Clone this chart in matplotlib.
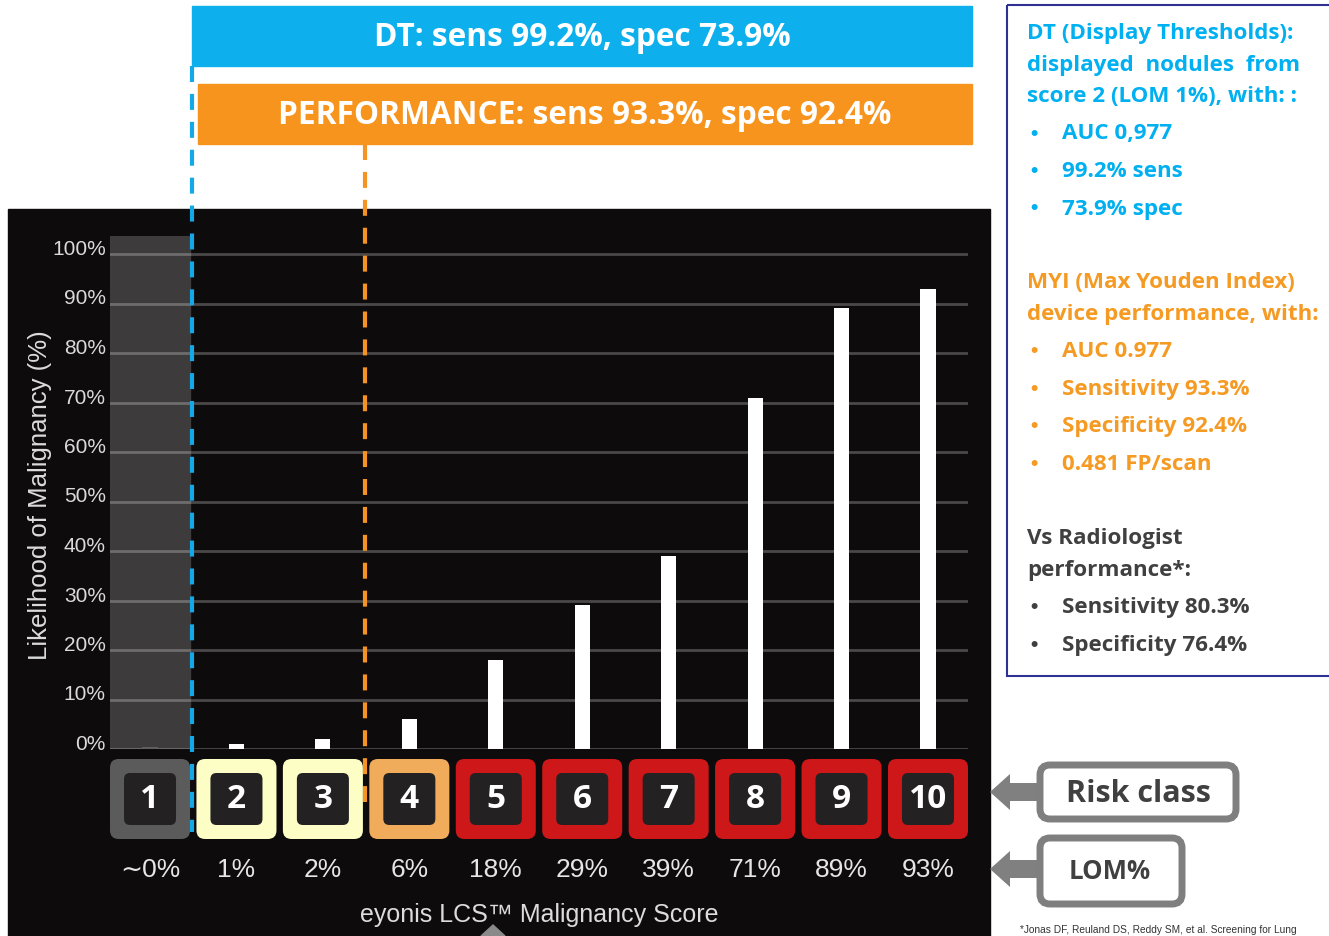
import matplotlib
matplotlib.use('Agg')
import matplotlib.pyplot as plt
from matplotlib.patches import FancyBboxPatch, Rectangle, Polygon, FancyArrow

plt.rcParams['font.family'] = ['Liberation Sans', 'DejaVu Sans']
plt.rcParams['lines.scale_dashes'] = False

W, H = 1329, 937

# chart data
scores = [1, 2, 3, 4, 5, 6, 7, 8, 9, 10]
likelihood = [0.4, 1, 2, 6, 18, 29, 39, 71, 89, 93]
lom_labels = ['∼0%', '1%', '2%', '6%', '18%', '29%', '39%', '71%', '89%', '93%']
risk_colors = ['#5b5b5b', '#fdfdc6', '#fdfdc6', '#f1ac5b',
               '#cd1719', '#cd1719', '#cd1719', '#cd1719', '#cd1719', '#cd1719']
bar_colors = ['#5e5e5e'] + ['white'] * 9
yticks = [0, 10, 20, 30, 40, 50, 60, 70, 80, 90, 100]
ytick_labels = ['0%', '10%', '20%', '30%', '40%', '50%', '60%', '70%', '80%', '90%', '100%']

# side panel texts
dt_head = ['DT (Display Thresholds):', 'displayed  nodules  from', 'score 2 (LOM 1%), with: :']
dt_items = ['AUC 0,977', '99.2% sens', '73.9% spec']
myi_head = ['MYI (Max Youden Index)', 'device performance, with:']
myi_items = ['AUC 0.977', 'Sensitivity 93.3%', 'Specificity 92.4%', '0.481 FP/scan']
rad_head = ['Vs Radiologist', 'performance*:']
rad_items = ['Sensitivity 80.3%', 'Specificity 76.4%']

BLUE = '#0db0ec'
ORANGE = '#f7941d'
BLUE_TXT = '#00b0f0'
ORANGE_TXT = '#f59a23'
GRAY_TXT = '#404040'
BOLD = 'Open Sans'

fig = plt.figure(figsize=(W / 100, H / 100), dpi=100)

# --- background layer, pixel coordinates
bg = fig.add_axes([0, 0, 1, 1], zorder=0)
bg.set_xlim(0, W)
bg.set_ylim(H, 0)
bg.axis('off')

bg.add_patch(Rectangle((8, 210), 982, 727, color='#0e0b0c'))

# banners
bg.add_patch(Rectangle((192, 7), 780, 60, color=BLUE))
bg.text(582, 38, 'DT: sens 99.2%, spec 73.9%', color='white', fontsize=22.8,
        fontweight='bold', family=BOLD, ha='center', va='center')
bg.add_patch(Rectangle((198, 85), 774, 60, color=ORANGE))
bg.text(585, 116, 'PERFORMANCE: sens 93.3%, spec 92.4%', color='white', fontsize=22.8,
        fontweight='bold', family=BOLD, ha='center', va='center')

# right info box
bg.add_patch(Rectangle((1007, 6), 400, 671, fill=False, edgecolor='#2e3192', lw=1.5))

def block(y, head, items, color):
    for t in head:
        bg.text(1027, y, t, color=color, fontsize=16.1, fontweight='bold',
                family=BOLD, va='center')
        y += 32
    y += 5
    for t in items:
        bg.text(1030, y, '•', color=color, fontsize=15, fontweight='bold', va='center')
        bg.text(1062, y, t, color=color, fontsize=16.1, fontweight='bold',
                family=BOLD, va='center')
        y += 37.5
    return y

block(33, dt_head, dt_items, BLUE_TXT)
block(283, myi_head, myi_items, ORANGE_TXT)
block(539, rad_head, rad_items, GRAY_TXT)

# legend boxes with arrows
bg.add_patch(FancyArrow(1042, 793, -32, 0, width=18, head_width=36, head_length=20,
                        length_includes_head=False, color='#808080', lw=0))
bg.add_patch(FancyBboxPatch((1040, 766), 196, 54, boxstyle='round,pad=0,rounding_size=10',
                            fc='white', ec='#7f7f7f', lw=5))
bg.text(1138, 794, 'Risk class', color=GRAY_TXT, fontsize=22, fontweight='bold',
        family=BOLD, ha='center', va='center')
bg.add_patch(FancyArrow(1042, 870, -32, 0, width=18, head_width=36, head_length=20,
                        length_includes_head=False, color='#808080', lw=0))
bg.add_patch(FancyBboxPatch((1040, 839), 142, 66, boxstyle='round,pad=0,rounding_size=10',
                            fc='white', ec='#7f7f7f', lw=5))
bg.text(1110, 872, 'LOM%', color=GRAY_TXT, fontsize=18.5, fontweight='bold',
        family=BOLD, ha='center', va='center')

bg.text(1020, 930, '*Jonas DF, Reuland DS, Reddy SM, et al. Screening for Lung',
        color='#333333', fontsize=7.3, va='center')

bg.add_patch(Polygon([(481, 937), (493, 926), (505, 937)], color='#8a8a8a'))

# --- bar chart
x0, x1 = 1 - 40 / 86.4, 10 + 40 / 86.4
ax = fig.add_axes([110 / W, (H - 750) / H, 858 / W, (750 - 237) / H], zorder=1)
ax.set_facecolor('none')
ax.set_xlim(x0, x1)
ax.set_ylim(0, (750 - 237) / 4.95)
ax.axvspan(x0, 1 + 40 / 86.4, color='#3d3b3c', zorder=0)
ax.bar(scores, likelihood, width=0.175, color=bar_colors, zorder=3)
ax.set_yticks(yticks)
ax.set_yticklabels(ytick_labels)
ax.set_xticks([])
ax.grid(axis='y', color='white', alpha=0.25, lw=2)
ax.tick_params(axis='y', length=0, pad=3, labelsize=15, labelcolor='#dadada')
for lab in ax.get_yticklabels():
    lab.set_va('baseline')
for sp in ax.spines.values():
    sp.set_visible(False)
ax.set_ylabel('Likelihood of Malignancy (%)', color='#dcdcdc', fontsize=18.5)
ax.yaxis.set_label_coords(-0.068, 0.497)

# --- risk class boxes row
axb = fig.add_axes([110 / W, (H - 845) / H, 858 / W, 90 / H], zorder=2)
axb.set_xlim(x0, x1)
axb.set_ylim(0, 90 / 86.4)
axb.axis('off')
y0 = 5 / 86.4
side = 80 / 86.4
inner = 52 / 86.4
for s, c, lom in zip(scores, risk_colors, lom_labels):
    axb.add_patch(FancyBboxPatch((s - side / 2, y0), side, side,
                                 boxstyle='round,pad=0,rounding_size=0.1', fc=c, ec='none'))
    cy = y0 + side / 2
    axb.add_patch(FancyBboxPatch((s - inner / 2, cy - inner / 2), inner, inner,
                                 boxstyle='round,pad=0,rounding_size=0.07', fc='#232122', ec='none'))
    axb.text(s, cy, str(s), color='white', fontsize=24, fontweight='bold',
             family=BOLD, ha='center', va='center')
    axb.text(s, -25 / 86.4, lom, color='#e6e6e6', fontsize=19, ha='center',
             va='center', clip_on=False)
axb.text(0.5, -70 / 90, 'eyonis LCS™ Malignancy Score', color='#dcdcdc', fontsize=18,
         ha='center', va='center', transform=axb.transAxes, clip_on=False)

# --- dashed threshold lines on top
tp = fig.add_axes([0, 0, 1, 1], zorder=5)
tp.set_xlim(0, W)
tp.set_ylim(H, 0)
tp.axis('off')
tp.patch.set_alpha(0)
tp.plot([192, 192], [67, 833], color='#14a8e6', lw=3, dashes=(11.5, 8.6))
tp.plot([365, 365], [145, 803], color='#f39424', lw=3, dashes=(11.5, 8.6))

fig.savefig('out.png', dpi=100)
